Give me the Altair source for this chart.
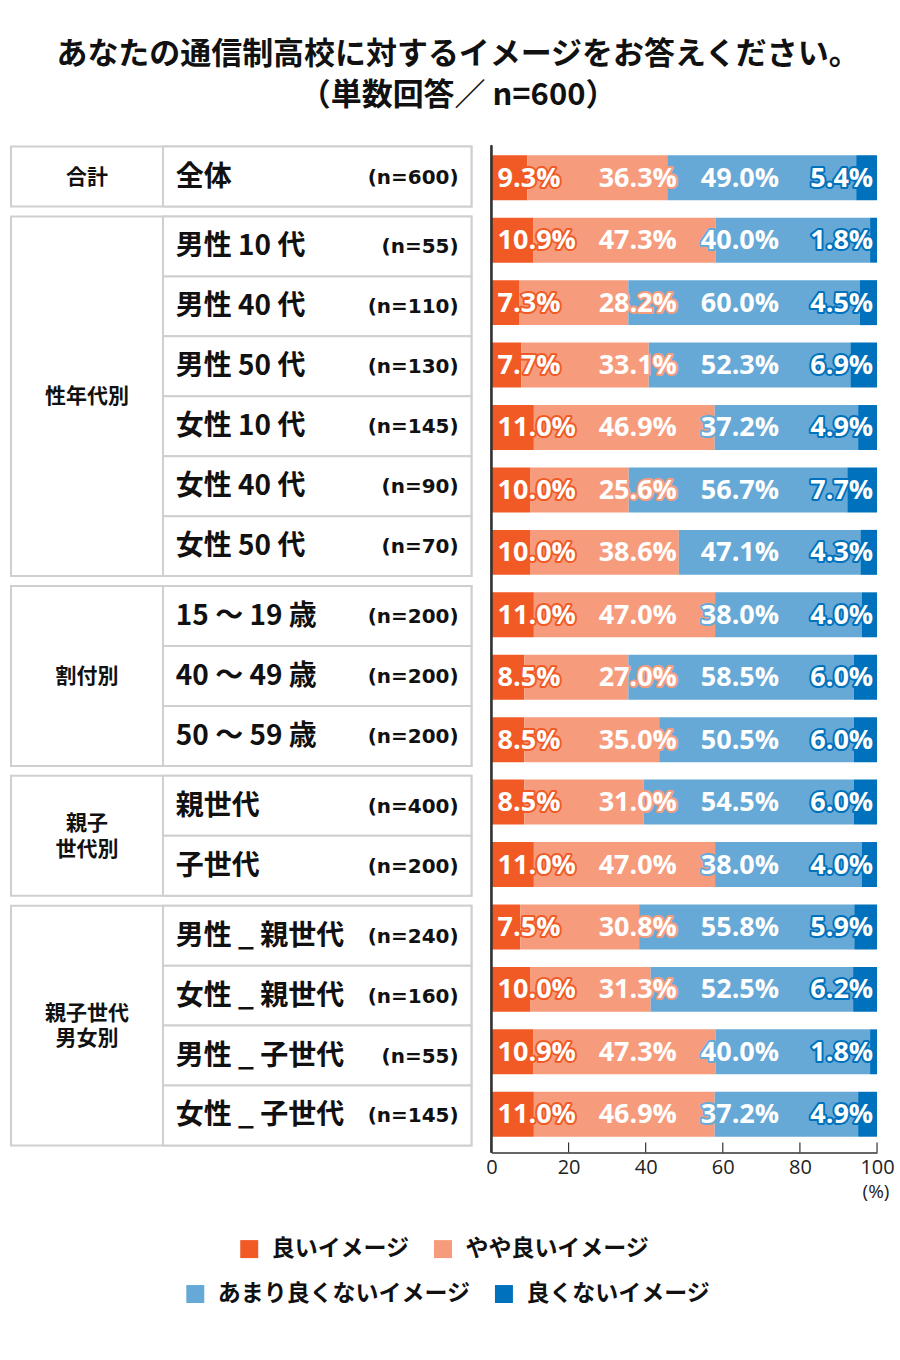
import altair as alt
import pandas as pd

JP = "Noto Sans CJK JP"
LAT = "Open Sans"
WIDE = "DejaVu Sans"

# ---------------- data ----------------
title_lines = ["あなたの通信制高校に対するイメージをお答えください。", "（単数回答／ n=600）"]

group_names = ["合計", "性年代別", "割付別", "親子\n世代別", "親子世代\n男女別"]
group_sizes = [1, 6, 3, 2, 4]

row_names = ["全体", "男性 10 代", "男性 40 代", "男性 50 代", "女性 10 代", "女性 40 代", "女性 50 代",
             "15 ～ 19 歳", "40 ～ 49 歳", "50 ～ 59 歳", "親世代", "子世代",
             "男性 _ 親世代", "女性 _ 親世代", "男性 _ 子世代", "女性 _ 子世代"]
row_n = [600, 55, 110, 130, 145, 90, 70, 200, 200, 200, 400, 200, 240, 160, 55, 145]

categories = ["良いイメージ", "やや良いイメージ", "あまり良くないイメージ", "良くないイメージ"]
good = [9.3, 10.9, 7.3, 7.7, 11.0, 10.0, 10.0, 11.0, 8.5, 8.5, 8.5, 11.0, 7.5, 10.0, 10.9, 11.0]
fair = [36.3, 47.3, 28.2, 33.1, 46.9, 25.6, 38.6, 47.0, 27.0, 35.0, 31.0, 47.0, 30.8, 31.3, 47.3, 46.9]
not_good = [49.0, 40.0, 60.0, 52.3, 37.2, 56.7, 47.1, 38.0, 58.5, 50.5, 54.5, 38.0, 55.8, 52.5, 40.0, 37.2]
bad = [5.4, 1.8, 4.5, 6.9, 4.9, 7.7, 4.3, 4.0, 6.0, 6.0, 6.0, 4.0, 5.9, 6.2, 1.8, 4.9]
x_ticks = [0, 20, 40, 60, 80, 100]

colors = ["#F15A24", "#F69C7D", "#66A9D6", "#0071BC"]

# ---------------- layout constants (style) ----------------
ROW_U, GAP_U = 6, 1           # table row / gap height in table units (10 px per unit)
LINE_U = 2.55                 # line spacing of multi-line group labels, in table units
COL_SPLIT, GROUP_X, ROW_X, N_X = 33.0, 16.5, 35.8, 97.2
LABEL_ANCHOR = [1.6, 27.8, 54.3, 99.0]   # where each category's value label sits (% axis)
TABLE_W, BAR_W, H = 461, 386, 1000
BORDER = "#CFCFCF"

# ---------------- table frames ----------------
grp_rows, grp_lines, cell_rows = [], [], []
pos, r = 0, 0
for gname, gsize in zip(group_names, group_sizes):
    ym = pos + gsize * ROW_U / 2
    grp_rows.append({"name": gname, "x0": 0, "x1": 100, "y0": pos, "y1": pos + gsize * ROW_U})
    parts = gname.split("\n")
    for k, part in enumerate(parts):
        grp_lines.append({"txt": part, "ym": ym + (k - (len(parts) - 1) / 2) * LINE_U})
    for k in range(gsize):
        y0 = pos + k * ROW_U
        cell_rows.append({"label": row_names[r], "n": f"(n={row_n[r]})",
                          "x0": COL_SPLIT, "x1": 100, "y0": y0, "y1": y0 + ROW_U, "ym": y0 + ROW_U / 2})
        r += 1
    pos += gsize * ROW_U + GAP_U
total_u = pos - GAP_U

df_grp = pd.DataFrame(grp_rows)
df_gl = pd.DataFrame(grp_lines)
df_cell = pd.DataFrame(cell_rows)

xs = alt.Scale(domain=[0, 100], nice=False, zero=False)
ys = alt.Scale(domain=[0, total_u], reverse=True, nice=False, zero=False)

grp_rect = alt.Chart(df_grp).mark_rect(fill="white", stroke=BORDER, strokeWidth=2).encode(
    x=alt.X("x0:Q", scale=xs, axis=None), x2="x1:Q",
    y=alt.Y("y0:Q", scale=ys, axis=None), y2="y1:Q")
cell_rect = alt.Chart(df_cell).mark_rect(fill="white", stroke=BORDER, strokeWidth=2).encode(
    x=alt.X("x0:Q", scale=xs, axis=None), x2="x1:Q",
    y=alt.Y("y0:Q", scale=ys, axis=None), y2="y1:Q")
grp_text = alt.Chart(df_gl).mark_text(font=JP, fontSize=21, fontWeight="bold", color="#111",
                                      align="center", baseline="middle", dy=1).encode(
    x=alt.datum(GROUP_X), y=alt.Y("ym:Q", scale=ys, axis=None), text="txt:N")
row_text = alt.Chart(df_cell).mark_text(font=JP, fontSize=28, fontWeight="bold", color="#111",
                                        align="left", baseline="middle", dy=1).encode(
    x=alt.datum(ROW_X), y=alt.Y("ym:Q", scale=ys, axis=None), text="label:N")
n_text = alt.Chart(df_cell).mark_text(font=WIDE, fontSize=20, fontWeight="bold", color="#111",
                                      align="right", baseline="middle", dy=1).encode(
    x=alt.datum(N_X), y=alt.Y("ym:Q", scale=ys, axis=None), text="n:N")

table = alt.layer(grp_rect, cell_rect, grp_text, row_text, n_text).properties(width=TABLE_W, height=H)

# ---------------- stacked bars ----------------
series = [good, fair, not_good, bad]
recs = []
for i in range(len(row_names)):
    for c, cat in enumerate(categories):
        recs.append({"rid": i, "cat": cat, "ci": c, "v": series[c][i],
                     "lbl": f"{series[c][i]:.1f}%", "lx": LABEL_ANCHOR[c]})
df = pd.DataFrame(recs)

bx = alt.Scale(domain=[0, 100], nice=False, zero=True)
by = alt.Scale(paddingInner=0.28, paddingOuter=0.14)
cscale = alt.Scale(domain=categories, range=colors)

bars = alt.Chart(df).mark_bar().encode(
    x=alt.X("v:Q", stack="zero", scale=bx,
            axis=alt.Axis(values=x_ticks, offset=7, ticks=False, domainColor="#333", domainWidth=1.5,
                          labelFont=LAT, labelFontSize=20, labelColor="#222", labelPadding=5,
                          grid=False, title=None, labelFlush=False)),
    y=alt.Y("rid:O", scale=by, axis=None),
    color=alt.Color("cat:N", scale=cscale, legend=None),
    order=alt.Order("ci:Q"))

TXT = dict(font=LAT, fontSize=27, fontWeight="bold", baseline="middle", dy=1)

txt_left_o = alt.Chart(df).transform_filter("datum.ci < 3").mark_text(
    align="left", fill="white", strokeWidth=4, strokeJoin="round", **TXT).encode(
    x=alt.X("lx:Q", scale=bx), y=alt.Y("rid:O", scale=by, axis=None),
    stroke=alt.Stroke("cat:N", scale=cscale, legend=None), text="lbl:N")
txt_left = alt.Chart(df).transform_filter("datum.ci < 3").mark_text(
    align="left", color="white", **TXT).encode(
    x=alt.X("lx:Q", scale=bx), y=alt.Y("rid:O", scale=by, axis=None), text="lbl:N")
txt_right_o = alt.Chart(df).transform_filter("datum.ci == 3").mark_text(
    align="right", fill="white", strokeWidth=4, strokeJoin="round", **TXT).encode(
    x=alt.X("lx:Q", scale=bx), y=alt.Y("rid:O", scale=by, axis=None),
    stroke=alt.Stroke("cat:N", scale=cscale, legend=None), text="lbl:N")
txt_right = alt.Chart(df).transform_filter("datum.ci == 3").mark_text(
    align="right", color="white", **TXT).encode(
    x=alt.X("lx:Q", scale=bx), y=alt.Y("rid:O", scale=by, axis=None), text="lbl:N")

df_ticks = pd.DataFrame({"t": x_ticks})
tick_rules = alt.Chart(df_ticks).mark_rule(color="#333", strokeWidth=1.2).encode(
    x=alt.X("t:Q", scale=bx), y=alt.value(H - 3), y2=alt.value(H + 7))
y_line = alt.Chart(df_ticks).mark_rule(color="#333", strokeWidth=1.5).encode(
    x=alt.value(0), y=alt.value(-1), y2=alt.value(H + 7))
pct_unit = alt.Chart(df_ticks).transform_filter("datum.t == 100").mark_text(
    font=LAT, fontSize=19, color="#222", align="center", baseline="middle", dx=-1).encode(
    x=alt.X("t:Q", scale=bx), y=alt.value(H + 47), text=alt.value("(%)"))


def legend_layer(cats, lx, ly):
    sub = [c for c in categories if c in cats]
    rng = [colors[categories.index(c)] for c in sub]
    return alt.Chart(df).transform_filter(
        alt.FieldOneOfPredicate(field="cat", oneOf=sub)).mark_square(opacity=0, size=1).encode(
        color=alt.Color("cat:N", scale=alt.Scale(domain=sub, range=rng),
                        legend=alt.Legend(title=None, orient="none", direction="horizontal",
                                          legendX=lx, legendY=ly, padding=0,
                                          symbolType="square", symbolSize=324, symbolStrokeWidth=0,
                                          symbolOpacity=1, labelFont=JP, labelFontSize=23,
                                          labelFontWeight="bold", labelColor="#111", labelOffset=11,
                                          columnPadding=22, labelLimit=400)))


leg1 = legend_layer(categories[:2], -254, 1092)
leg2 = legend_layer(categories[2:], -308, 1137)

barchart = alt.layer(bars, txt_left_o, txt_left, txt_right_o, txt_right, tick_rules, y_line, pct_unit,
                     leg1, leg2).resolve_scale(color="independent").properties(width=BAR_W, height=H)

chart = alt.hconcat(table, barchart, spacing=20, bounds="flush").properties(
    title=alt.TitleParams(title_lines, font=JP, fontSize=31, fontWeight="bold", color="#111",
                          anchor="middle", lineHeight=41, offset=33, dx=6),
    padding={"left": 10, "top": 38, "right": 5, "bottom": 5},
).configure_view(strokeWidth=0)

chart.save("out.html", embed_options={"renderer": "svg", "actions": False})
